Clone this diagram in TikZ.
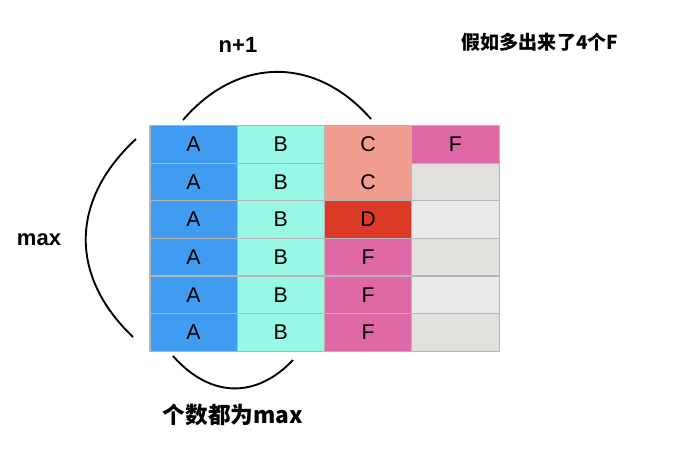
\documentclass[tikz,border=0pt]{standalone}
\usepackage{fontspec}
\setmainfont{Liberation Sans}
\newfontfamily\cjk{Noto Sans CJK SC}
\definecolor{cA}{HTML}{3F9CF1}
\definecolor{cB}{HTML}{98F8E6}
\definecolor{cC}{HTML}{F19D90}
\definecolor{cD}{HTML}{DB3A26}
\definecolor{cF}{HTML}{DF68A6}
\definecolor{gA}{HTML}{E1E0DC}
\definecolor{gB}{HTML}{EAEAEA}
\definecolor{bd}{HTML}{B5B5B5}
\tikzset{
  cell/.style={draw=bd, line width=0.9pt, minimum width=87.3*0.75pt, minimum height=37.6*0.75pt, inner sep=0pt, anchor=north west, font=\fontsize{16}{18}\selectfont},
  brace/.style={line width=1.4pt, black},
  lab/.style={font=\bfseries\fontsize{16.5}{18}\selectfont, inner sep=0pt},
  clab/.style={font=\cjk\bfseries\fontsize{17}{19}\selectfont, inner sep=0pt},
}
\begin{document}
\begin{tikzpicture}[x=0.75pt,y=-0.75pt]
\useasboundingbox (0,0) rectangle (692,456);
% table cells
\foreach \r/\a/\b/\c/\cc/\d/\dc in {0/A/B/C/cC/F/cF,1/A/B/C/cC//gA,2/A/B/D/cD//gB,3/A/B/F/cF//gA,4/A/B/F/cF//gB,5/A/B/F/cF//gA}{
  \node[cell, fill=cA] (a\r) at (149.3, 125+37.6*\r) {\a};
  \node[cell, fill=cB] (b\r) at (236.6, 125+37.6*\r) {\b};
  \node[cell, fill=\cc] (c\r) at (323.9, 125+37.6*\r) {\c};
  \node[cell, fill=\dc] (d\r) at (411.2, 125+37.6*\r) {\d};
}
% braces
\coordinate (t1) at (183,120);
\coordinate (t2) at (371,119);
\draw[brace] (t1) .. controls (238,56) and (316,56) .. (t2);
\coordinate (l1) at (136,139);
\coordinate (l2) at (133,337);
\draw[brace] (l1) .. controls (70,200) and (69,276) .. (l2);
\coordinate (b1) at (173,356);
\coordinate (b2) at (293,360);
\draw[brace] (b1) .. controls (210,398) and (256,399) .. (b2);
% labels
\node[lab] (n1) at (238,45) {n+1};
\node[lab] (mx) at (39,240) {max};
\node[clab] (cnt) at (233,415) {个数都为max};
\node[font=\cjk\bfseries\fontsize{14.3}{16}\selectfont, inner sep=0pt] (extra) at (540,42) {假如多出来了4个F};
\end{tikzpicture}
\end{document}
